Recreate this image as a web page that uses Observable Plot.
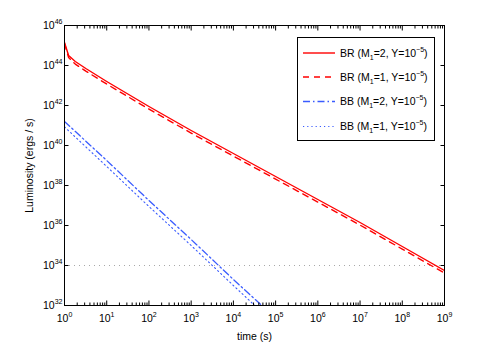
<!DOCTYPE html>
<html><head><meta charset="utf-8">
<script src="https://cdn.jsdelivr.net/npm/d3@7"></script>
<script src="https://cdn.jsdelivr.net/npm/@observablehq/plot@0.6"></script>
<style>
body{margin:0;background:#fff;}
#wrap{position:relative;width:491px;height:344px;font-family:"Liberation Sans",Arial,Helvetica,sans-serif;}
#legend{position:absolute;left:297px;top:37px;}
</style></head><body><div id="wrap"></div>
<script>
// ---- data ----
const seriesLabels = [
  {name:"BR", m:"2", y:"\u22125"},
  {name:"BR", m:"1", y:"\u22125"},
  {name:"BB", m:"2", y:"\u22125"},
  {name:"BB", m:"1", y:"\u22125"}
];
const timeBR     = [1, 1.25, 1.8, 3.2, 10, 1e2, 1e3, 1e4, 1e5, 1e6, 1e7, 1e8, 1e9];
const logL_BR_M2 = [45.15, 44.5, 44.2, 43.85, 43.2, 41.95, 40.75, 39.6, 38.45, 37.3, 36.15, 34.95, 33.75];
const logL_BR_M1 = [45.1, 44.4, 44.07, 43.72, 43.07, 41.82, 40.62, 39.47, 38.32, 37.17, 36.02, 34.82, 33.62];
const timeBB_M2  = [1, 10, 100, 1e3, 1e4, 4.7e4];
const logL_BB_M2 = [41.2, 39.25, 37.25, 35.3, 33.3, 32];
const timeBB_M1  = [1, 10, 100, 1e3, 1e4, 3.2e4];
const logL_BB_M1 = [40.93, 38.95, 36.95, 35.0, 33.0, 32];
const threshold  = [1e34];
const xMajor = [1e0,1e1,1e2,1e3,1e4,1e5,1e6,1e7,1e8,1e9];
const yMajor = [1e32,1e34,1e36,1e38,1e40,1e42,1e44,1e46];
const xMinor = [];
for (let d = 0; d < 9; d++) for (let k = 2; k <= 9; k++) xMinor.push(k * 10 ** d);

const rows = (t, e) => t.map((x, i) => ({t: x, L: 10 ** e[i]}));
const brM2 = rows(timeBR, logL_BR_M2);
const brM1 = rows(timeBR, logL_BR_M1);
const bbM2 = rows(timeBB_M2, logL_BB_M2);
const bbM1 = rows(timeBB_M1, logL_BB_M1);

const RED = "#ff0000", BLUE = "#3a5cff";
const expFmt = d => String(Math.round(Math.log10(d)));
const noText = () => "";
const FONT = '"Liberation Sans", Arial, Helvetica, sans-serif';

const chart = Plot.plot({
  width: 491, height: 344,
  marginLeft: 64, marginRight: 47, marginTop: 25, marginBottom: 39,
  style: {fontFamily: FONT, fontSize: "10.5px", background: "white", color: "black"},
  x: {type: "log", domain: [1, 1e9]},
  y: {type: "log", domain: [1e32, 1e46]},
  marks: [
    Plot.ruleY(threshold, {stroke: "#a8a8a8", strokeDasharray: "1,4"}),
    Plot.line(brM2, {x: "t", y: "L", stroke: RED, strokeWidth: 1.4, clip: true}),
    Plot.line(brM1, {x: "t", y: "L", stroke: RED, strokeWidth: 1.4, strokeDasharray: "6,5", clip: true}),
    Plot.line(bbM2, {x: "t", y: "L", stroke: BLUE, strokeWidth: 1.3, strokeDasharray: "7,3,1.5,3", clip: true}),
    Plot.line(bbM1, {x: "t", y: "L", stroke: BLUE, strokeWidth: 1.1, strokeDasharray: "1.2,3", clip: true}),
    Plot.frame({stroke: "black"}),
    // bottom axis labels + ticks
    Plot.axisX(xMajor, {anchor: "bottom", tickSize: 0, tickPadding: 9, tickFormat: expFmt,
      label: "time (s)", labelAnchor: "center", labelArrow: "none", labelOffset: 34}),
    Plot.axisX(xMajor, {anchor: "bottom", tickSize: -4.5, tickFormat: noText, label: null}),
    Plot.axisX(xMinor, {anchor: "bottom", tickSize: -2.5, tickFormat: noText, label: null}),
    Plot.axisX(xMajor, {anchor: "top", tickSize: -4.5, tickFormat: noText, label: null}),
    Plot.axisX(xMinor, {anchor: "top", tickSize: -2.5, tickFormat: noText, label: null}),
    // left axis labels + ticks
    Plot.axisY(yMajor, {anchor: "left", tickSize: 0, tickPadding: 2, tickFormat: expFmt,
      label: "Luminosity (ergs / s)", labelAnchor: "center", labelArrow: "none", labelOffset: 39}),
    Plot.axisY(yMajor, {anchor: "left", tickSize: -4.5, tickFormat: noText, label: null}),
    Plot.axisY(yMajor, {anchor: "right", tickSize: -4.5, tickFormat: noText, label: null})
  ]
});

// power-of-ten labels with raised exponents
d3.select(chart).selectAll('g[aria-label="x-axis tick label"] text, g[aria-label="y-axis tick label"] text')
  .each(function () {
    const t = d3.select(this);
    const e = t.text();
    if (!e) return;
    t.text("");
    t.append("tspan").text("10");
    t.append("tspan").attr("dy", "-4.8").attr("font-size", "7px").text(e);
  });

document.getElementById("wrap").appendChild(chart);

// legend
const lg = d3.select("#wrap").append("svg").attr("id", "legend")
  .attr("width", 139).attr("height", 105)
  .style("font-family", FONT).style("font-size", "10.5px");
lg.append("rect").attr("x", 0.5).attr("y", 0.5).attr("width", 137).attr("height", 103)
  .attr("fill", "white").attr("stroke", "black");
const styles = [
  {stroke: RED, w: 1.4, dash: null},
  {stroke: RED, w: 1.4, dash: "6,5"},
  {stroke: BLUE, w: 1.3, dash: "7,3,1.5,3"},
  {stroke: BLUE, w: 1.1, dash: "1.2,3"}
];
const rowY = [16, 40, 64.5, 89.5];
seriesLabels.forEach((s, i) => {
  const y = rowY[i];
  lg.append("line").attr("x1", 6).attr("x2", 38).attr("y1", y).attr("y2", y)
    .attr("stroke", styles[i].stroke).attr("stroke-width", styles[i].w)
    .attr("stroke-dasharray", styles[i].dash);
  const tx = lg.append("text").attr("x", 43).attr("y", y + 3.5);
  tx.append("tspan").text(s.name + " (M");
  tx.append("tspan").attr("dy", 3).attr("font-size", "7px").text("1");
  tx.append("tspan").attr("dy", -3).text("=" + s.m + ", Y=10");
  tx.append("tspan").attr("dy", -4.8).attr("font-size", "7px").text(s.y);
  tx.append("tspan").attr("dy", 4.8).text(")");
});
</script>
</body></html>
